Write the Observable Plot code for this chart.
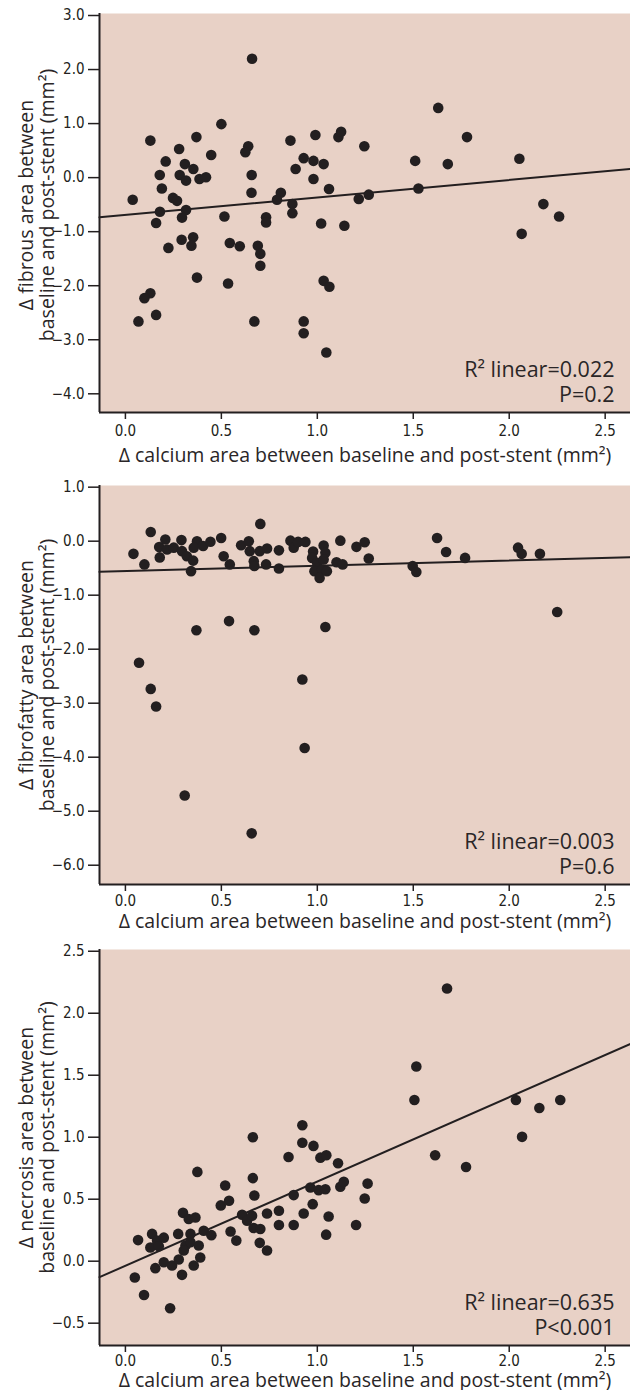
<!DOCTYPE html>
<html>
<head>
<meta charset="utf-8">
<script src="https://cdn.jsdelivr.net/npm/d3@7"></script>
<script src="https://cdn.jsdelivr.net/npm/@observablehq/plot@0.6"></script>
<style>
  html, body { margin: 0; padding: 0; background: #fff; }
  #chart svg { display: block; }
</style>
</head>
<body>
<div id="chart"></div>
<script>
// ---- shared x axis ----
const xDomain = [-0.135, 2.632];
const xTicks = [0.0, 0.5, 1.0, 1.5, 2.0, 2.5];
const xLabel = "Δ calcium area between baseline and post-stent (mm²)";

// ---- panel 1: fibrous ----
const fibrousX = [0.038,0.66,0.50,0.13,0.37,0.28,0.64,0.625,0.86,0.99,0.21,0.447,0.31,0.354,0.179,0.283,0.316,0.386,0.42,0.658,0.929,0.98,0.887,0.98,0.19,0.248,0.269,0.657,0.81,0.79,0.87,0.18,0.316,0.295,0.516,0.733,0.733,0.87,0.16,1.02,0.293,0.353,0.344,0.544,0.596,0.69,0.703,0.703,0.224,0.373,0.535,0.13,0.099,0.16,0.068,0.672,0.929,0.929,1.11,1.124,1.245,1.63,1.78,1.51,1.68,2.053,1.033,1.061,1.216,1.268,1.527,1.141,2.178,2.26,2.065,1.033,1.063,1.047];
const fibrousY = [-0.41,2.20,0.99,0.685,0.75,0.53,0.58,0.47,0.685,0.79,0.30,0.42,0.25,0.16,0.05,0.05,-0.055,-0.025,0.006,0.05,0.36,0.31,0.16,-0.025,-0.20,-0.375,-0.43,-0.28,-0.28,-0.41,-0.49,-0.63,-0.60,-0.74,-0.72,-0.735,-0.83,-0.66,-0.84,-0.85,-1.15,-1.105,-1.26,-1.21,-1.27,-1.26,-1.41,-1.63,-1.30,-1.85,-1.96,-2.14,-2.23,-2.54,-2.66,-2.66,-2.66,-2.88,0.75,0.85,0.58,1.29,0.75,0.31,0.25,0.35,0.25,-0.21,-0.395,-0.315,-0.20,-0.89,-0.49,-0.72,-1.04,-1.91,-2.02,-3.235];
const fibrousYTicks = [3, 2, 1, 0, -1, -2, -3, -4];
const fibrousFit = [-0.691, 0.3235]; // intercept, slope
const fibrousStats = "R² linear=0.022\nP=0.2";
const fibrousLabel = "Δ fibrous area between\nbaseline and post-stent (mm²)";

// ---- panel 2: fibrofatty ----
const fibrofattyX = [0.042,0.099,0.132,0.176,0.179,0.208,0.217,0.252,0.292,0.295,0.32,0.353,0.342,0.373,0.356,0.405,0.443,0.499,0.512,0.544,0.603,0.643,0.648,0.703,0.669,0.672,0.70,0.738,0.733,0.80,0.80,0.86,0.877,0.90,0.938,0.978,1.033,1.042,0.973,0.999,1.033,0.985,1.025,1.012,1.05,0.37,0.54,0.672,0.071,0.132,0.16,0.922,0.934,0.309,0.658,1.12,1.204,1.247,1.268,1.10,1.132,1.497,1.516,1.624,1.671,1.77,2.046,2.065,2.16,2.25,1.042];
const fibrofattyY = [-0.235,-0.43,0.17,-0.11,-0.30,0.03,-0.155,-0.12,0.02,-0.185,-0.28,-0.36,-0.555,0.0,-0.12,-0.09,-0.01,0.06,-0.28,-0.43,-0.075,0.0,-0.185,0.32,-0.37,-0.46,-0.185,-0.135,-0.43,-0.17,-0.505,0.01,-0.12,-0.013,-0.013,-0.19,-0.08,-0.215,-0.31,-0.40,-0.34,-0.555,-0.525,-0.68,-0.555,-1.65,-1.48,-1.65,-2.25,-2.735,-3.06,-2.56,-3.83,-4.71,-5.41,0.01,-0.105,-0.02,-0.32,-0.39,-0.43,-0.46,-0.57,0.06,-0.20,-0.31,-0.12,-0.235,-0.235,-1.31,-1.59];
const fibrofattyYTicks = [1, 0, -1, -2, -3, -4, -5, -6];
const fibrofattyFit = [-0.555, 0.098];
const fibrofattyStats = "R² linear=0.003\nP=0.6";
const fibrofattyLabel = "Δ fibrofatty area between\nbaseline and post-stent (mm²)";

// ---- panel 3: necrosis ----
const necrosisX = [0.066,0.049,0.097,0.233,0.139,0.13,0.165,0.20,0.174,0.156,0.20,0.243,0.278,0.275,0.295,0.30,0.33,0.365,0.313,0.339,0.339,0.304,0.356,0.382,0.39,0.375,0.408,0.448,0.52,0.497,0.54,0.548,0.578,0.664,0.664,0.672,0.608,0.634,0.66,0.668,0.703,0.70,0.738,0.738,0.80,0.80,0.85,0.877,0.877,0.922,0.922,0.929,0.976,0.98,0.964,1.016,1.047,1.108,1.007,1.042,1.12,1.138,1.262,1.247,1.059,1.046,1.202,1.676,1.516,1.506,1.614,1.775,2.035,2.157,2.266,2.067];
const necrosisY = [0.17,-0.131,-0.273,-0.38,0.22,0.11,0.166,0.19,0.12,-0.056,-0.008,-0.035,0.014,0.22,-0.11,0.39,0.34,0.353,0.126,0.22,0.153,0.086,-0.035,0.126,0.03,0.72,0.246,0.21,0.61,0.45,0.487,0.24,0.166,1.0,0.67,0.53,0.375,0.327,0.367,0.268,0.26,0.148,0.385,0.086,0.407,0.292,0.84,0.533,0.292,1.097,0.955,0.385,0.46,0.93,0.594,0.835,0.854,0.79,0.573,0.58,0.60,0.64,0.626,0.506,0.36,0.214,0.292,2.2,1.57,1.30,0.854,0.76,1.30,1.236,1.30,1.003];
const necrosisYTicks = [2.5, 2.0, 1.5, 1.0, 0.5, 0.0, -0.5];
const necrosisFit = [-0.037, 0.680];
const necrosisStats = "R² linear=0.635\nP<0.001";
const necrosisLabel = "Δ necrosis area between\nbaseline and post-stent (mm²)";

// ---- styling ----
const pink = "#e8d1c6";
const ink = "#231f20";
const textInk = "#2a2627";
const narrow = "'Liberation Sans Narrow', 'DejaVu Sans Condensed', 'Roboto Condensed', 'Arial Narrow', sans-serif";
const labelFont = "'Open Sans', 'Noto Sans', sans-serif";
const fmt = d3.format(".1f");

function panel(cfg) {
  const data = cfg.xs.map((x, i) => ({x, y: cfg.ys[i]}));
  const fit = xDomain.map(x => ({x, y: cfg.fit[0] + cfg.fit[1] * x}));
  return Plot.plot({
    width: 630,
    height: cfg.height,
    marginLeft: 99,
    marginRight: 0,
    marginTop: cfg.marginTop,
    marginBottom: cfg.marginBottom,
    style: {background: "#fff", color: ink, fontFamily: narrow, fontSize: "15px", overflow: "visible"},
    x: {domain: xDomain},
    y: {domain: cfg.yDomain},
    marks: [
      Plot.frame({fill: pink, stroke: "none"}),
      Plot.axisX({ticks: xTicks, tickFormat: fmt, tickSize: 7, tickPadding: cfg.xPad, label: null, fontSize: 15, strokeWidth: 1.5}),
      Plot.axisY({ticks: cfg.yTicks, tickFormat: fmt, tickSize: 11, tickPadding: 4, label: null, fontSize: 15, strokeWidth: 1.5}),
      Plot.ruleX([xDomain[0]], {stroke: ink, strokeWidth: 2}),
      Plot.ruleY([cfg.yDomain[0]], {stroke: ink, strokeWidth: 2}),
      Plot.line(fit, {x: "x", y: "y", stroke: ink, strokeWidth: 2}),
      Plot.dot(data, {x: "x", y: "y", r: 5.3, fill: ink, stroke: "none"}),
      Plot.text([cfg.stats], {frameAnchor: "bottom-right", dx: -16, dy: -11, textAnchor: "end", lineAnchor: "bottom", lineHeight: 1.14, fontSize: 21.5, fontFamily: labelFont, fill: textInk}),
      Plot.text([xLabel], {frameAnchor: "bottom", dy: cfg.labelDy, textAnchor: "middle", lineAnchor: "bottom", fontSize: 19.5, fontFamily: labelFont, fill: textInk}),
      Plot.text([cfg.yLabel], {frameAnchor: "left", rotate: -90, dx: -63, dy: cfg.yLabelDy, textAnchor: "middle", lineAnchor: "middle", fontSize: 19.5, lineHeight: 1.12, fontFamily: labelFont, fill: textInk})
    ]
  });
}

const chart = document.getElementById("chart");
chart.append(panel({xs: fibrousX, ys: fibrousY, yDomain: [-4.346, 3.037], yTicks: fibrousYTicks, fit: fibrousFit, stats: fibrousStats, yLabel: fibrousLabel, height: 466, marginTop: 13, marginBottom: 54, labelDy: 49, yLabelDy: -8, xPad: 6}));
chart.append(panel({xs: fibrofattyX, ys: fibrofattyY, yDomain: [-6.357, 1.031], yTicks: fibrofattyYTicks, fit: fibrofattyFit, stats: fibrofattyStats, yLabel: fibrofattyLabel, height: 469, marginTop: 19, marginBottom: 51, labelDy: 43, yLabelDy: -10, xPad: 4}));
chart.append(panel({xs: necrosisX, ys: necrosisY, yDomain: [-0.68, 2.514], yTicks: necrosisYTicks, fit: necrosisFit, stats: necrosisStats, yLabel: necrosisLabel, height: 455, marginTop: 14, marginBottom: 45, labelDy: 41, yLabelDy: -10, xPad: 3}));
</script>
</body>
</html>
